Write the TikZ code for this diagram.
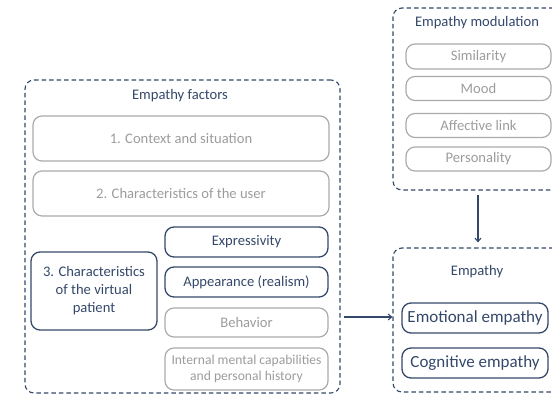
\documentclass[tikz,border=0pt]{standalone}
\usepackage{fontspec}
\setmainfont{Carlito}
\usetikzlibrary{arrows.meta}
\definecolor{navy}{HTML}{34486A}
\definecolor{gbord}{HTML}{ABABAB}
\definecolor{gtext}{HTML}{9C9C9C}
\tikzset{
  grp/.style={draw=navy, dashed, dash pattern=on 4.5pt off 3pt, line width=1.1pt, rounded corners=9pt, inner sep=0pt},
  gbox/.style={draw=gbord, line width=1.2pt, rounded corners=9pt, text=gtext, font=\fontsize{14.6}{18}\selectfont, align=center, inner sep=0pt},
  nbox/.style={draw=navy, line width=1.3pt, rounded corners=9pt, text=navy, font=\fontsize{14.6}{18}\selectfont, align=center, inner sep=0pt},
  ttl/.style={text=navy, font=\fontsize{14.6}{18}\selectfont, inner sep=0pt},
  arr/.style={draw=navy, line width=1.1pt, -{Straight Barb[length=3.5pt,width=6pt]}}
}
\begin{document}
\begin{tikzpicture}[x=1pt,y=-1pt]
\useasboundingbox (0,0) rectangle (552,396);
\begin{scope}
\clip (0,0) rectangle (552,396);
% Empathy factors
\node[grp, minimum width=315pt, minimum height=313pt] (factors) at (182.5,236.5) {};
\node[ttl] (ftitle) at (180,96) {Empathy factors};
\node[gbox, minimum width=296pt, minimum height=45pt] (ctx) at (181,138.5) {1. Context and situation};
\node[gbox, minimum width=296pt, minimum height=45pt] (user) at (181,193.5) {2. Characteristics of the user};
\node[nbox, minimum width=126pt, minimum height=78pt] (vp) at (94,291) {3. Characteristics\\of the virtual\\patient};
\node[nbox, minimum width=163pt, minimum height=30pt] (expr) at (246.5,242) {Expressivity};
\node[nbox, minimum width=163pt, minimum height=30pt] (appear) at (246.5,282) {Appearance (realism)};
\node[gbox, minimum width=163pt, minimum height=29pt] (behav) at (246.5,322.5) {Behavior};
\node[gbox, minimum width=163pt, minimum height=42pt, font=\fontsize{13.6}{15.6}\selectfont] (internal) at (246.5,369) {Internal mental capabilities\\and personal history};
% Empathy modulation
\node[grp, minimum width=177pt, minimum height=182pt] (modul) at (481.5,99) {};
\node[ttl] (mtitle) at (477,23) {Empathy modulation};
\node[gbox, minimum width=145pt, minimum height=25pt] (sim) at (478.5,56.5) {Similarity};
\node[gbox, minimum width=145pt, minimum height=24pt] (mood) at (478.5,88.5) {Mood};
\node[gbox, minimum width=145pt, minimum height=24pt] (aff) at (478.5,125.5) {Affective link};
\node[gbox, minimum width=145pt, minimum height=24pt] (pers) at (478.5,159) {Personality};
% Empathy
\node[grp, minimum width=177pt, minimum height=144pt] (emp) at (481.5,320) {};
\node[ttl] (etitle) at (477,272) {Empathy};
\node[nbox, minimum width=146pt, minimum height=30pt, font=\fontsize{17}{20}\selectfont] (emo) at (475,318) {Emotional empathy};
\node[nbox, minimum width=146pt, minimum height=30pt, font=\fontsize{17}{20}\selectfont] (cog) at (475,363) {Cognitive empathy};
% arrows
\draw[arr] ([xshift=3pt]factors.east |- 0,317) -- (emp.west |- 0,317);
\draw[arr, shorten <=4pt, shorten >=5pt] (modul.south -| 478,0) -- (emp.north -| 478,0);
\end{scope}
\end{tikzpicture}
\end{document}
